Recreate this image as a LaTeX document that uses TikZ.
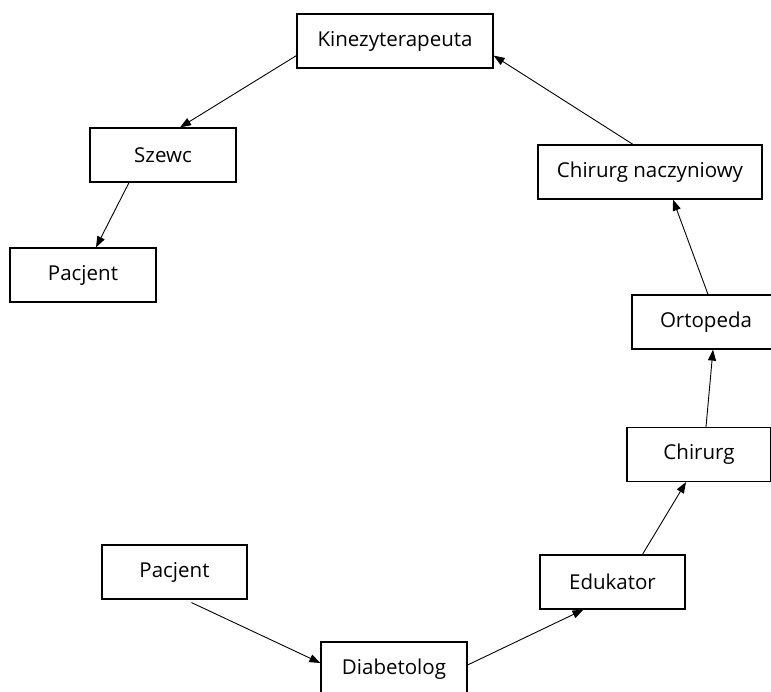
\documentclass[tikz,border=0pt]{standalone}
\usepackage{fontspec}
\setmainfont{Open Sans}
\usetikzlibrary{arrows.meta}
\begin{document}
\begin{tikzpicture}[x=1pt,y=-1pt,
  box/.style={draw, line width=1.2pt, inner sep=0pt, minimum height=54pt, font=\fontsize{20.5}{23}\selectfont, anchor=center},
  link/.style={line width=0.9pt, -{Stealth[length=11pt,width=8pt,inset=0pt]}}]
\useasboundingbox (0,0) rectangle (771,692);
\clip (0,0) rectangle (771,692);
\node[box, minimum width=196pt] (kin) at (395,41) {Kinezyterapeuta};
\node[box, minimum width=146pt] (szewc) at (163,155) {Szewc};
\node[box, minimum width=146pt] (pac1) at (83,275) {Pacjent};
\node[box, minimum width=224pt] (chn) at (650,172) {Chirurg naczyniowy};
\node[box, minimum width=148pt] (ort) at (706,322) {Ortopeda};
\node[box, minimum width=144pt] (chir) at (699,454.5) {Chirurg};
\node[box, minimum width=145pt] (edu) at (612.5,582) {Edukator};
\node[box, minimum width=145pt] (pac2) at (174.5,572) {Pacjent};
\node[box, minimum width=146pt] (diab) at (394,669) {Diabetolog};
\draw[link] ([yshift=13pt]kin.south west) -- ([xshift=17pt]szewc.north);
\draw[link] ([xshift=-34pt]szewc.south) -- ([xshift=13pt]pac1.north);
\draw[link] ([xshift=-17pt]chn.north) -- ([yshift=13pt]kin.south east);
\draw[link] ([xshift=2pt]ort.north) -- ([xshift=23pt]chn.south);
\draw[link] ([xshift=7pt]chir.north) -- ([xshift=7pt]ort.south);
\draw[link] ([xshift=30pt]edu.north) -- ([xshift=-13pt]chir.south);
\draw[link] ([yshift=4pt]diab.east) -- ([xshift=-29pt]edu.south);
\draw[link] ([xshift=17pt,yshift=-3pt]pac2.south) -- ([yshift=6pt]diab.west);
\end{tikzpicture}
\end{document}
